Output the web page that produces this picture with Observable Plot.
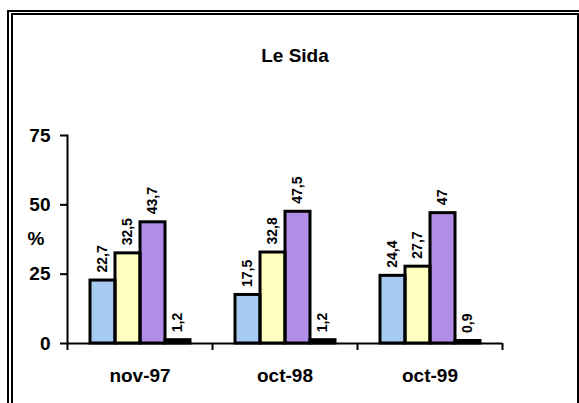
<!DOCTYPE html>
<html><head><meta charset="utf-8">
<script src="https://cdn.jsdelivr.net/npm/d3@7"></script>
<script src="https://cdn.jsdelivr.net/npm/@observablehq/plot@0.6"></script>
<style>
body{margin:0;background:#fff;}
#wrap{position:relative;width:579px;height:403px;overflow:hidden;font-family:"Liberation Sans",Arial,sans-serif;color:#000;}
.outer{position:absolute;left:7px;top:10px;width:700px;height:500px;border-left:2px solid #000;border-top:2px solid #000;}
.inner{position:absolute;left:11px;top:13px;width:564px;height:500px;border:2px solid #000;}
#title{position:absolute;left:13px;width:564px;top:45px;text-align:center;font-weight:bold;font-size:19px;}
#pct{position:absolute;left:24px;top:228px;width:24px;text-align:center;font-weight:bold;font-size:19px;}
#chart{position:absolute;left:0;top:100px;}
</style></head>
<body>
<div id="wrap">
  <div class="outer"></div>
  <div class="inner"></div>
  <div id="title">Le Sida</div>
  <div id="pct">%</div>
  <div id="chart"></div>
</div>
<script>
const groups = ["nov-97", "oct-98", "oct-99"];
const seriesNames = ["Série 1", "Série 2", "Série 3", "Série 4"];
const serie1 = [22.7, 17.5, 24.4];
const serie2 = [32.5, 32.8, 27.7];
const serie3 = [43.7, 47.5, 47];
const serie4 = [1.2, 1.2, 0.9];
const colors = ["#a6caf0", "#ffffc0", "#b08ee8", "#000000"];
const yTicks = [0, 25, 50, 75];

const allSeries = [serie1, serie2, serie3, serie4];
const data = [];
groups.forEach((g, gi) => {
  seriesNames.forEach((s, si) => data.push({g, s, v: allSeries[si][gi]}));
});
const fmt = v => String(v).replace(".", ",");

const W = 579, H = 290, mL = 67, mR = 77, mT = 35, mB = 47;
const bw = (W - mL - mR) / groups.length;
const font = '"Liberation Sans", Arial, sans-serif';

const chart = Plot.plot({
  width: W, height: H,
  marginLeft: mL, marginRight: mR, marginTop: mT, marginBottom: mB,
  style: {fontFamily: font, fontSize: "19px", fontWeight: "bold", color: "#000", background: "transparent", overflow: "visible"},
  fx: {domain: groups, padding: 0, label: null},
  x: {domain: seriesNames, paddingInner: 0, paddingOuter: 0.8, axis: null},
  y: {domain: [0, 75], label: null},
  color: {domain: seriesNames, range: colors},
  marks: [
    Plot.barY(data, {fx: "g", x: "s", y: "v", fill: "s"}),
    Plot.barY(data, {fx: "g", x: "s", y: "v", fill: "none", stroke: "#000", strokeWidth: 3}),
    Plot.text(data, {fx: "g", x: "s", y: "v", text: d => fmt(d.v), rotate: -90, textAnchor: "start", lineAnchor: "middle", dy: -8, fontSize: 14, fill: "#000"}),
    Plot.ruleY([0], {stroke: "#000", strokeWidth: 2}),
    Plot.frame({anchor: "left", facetAnchor: "left", stroke: "#000", strokeWidth: 2}),
    Plot.axisY({ticks: yTicks, tickSize: 7, tickPadding: 10, stroke: "#000", strokeWidth: 2, fontSize: 19, label: null}),
    Plot.axisFx({anchor: "bottom", tickSize: 0, tickPadding: 25, fontSize: 19, label: null}),
    Plot.axisFx({anchor: "bottom", text: null, tickSize: 7, stroke: "#000", strokeWidth: 2, dx: -bw / 2, label: null}),
    Plot.axisFx({anchor: "bottom", ticks: [groups[groups.length - 1]], text: null, tickSize: 7, stroke: "#000", strokeWidth: 2, dx: bw / 2, label: null})
  ]
});
document.getElementById("chart").appendChild(chart);
</script>
</body></html>
